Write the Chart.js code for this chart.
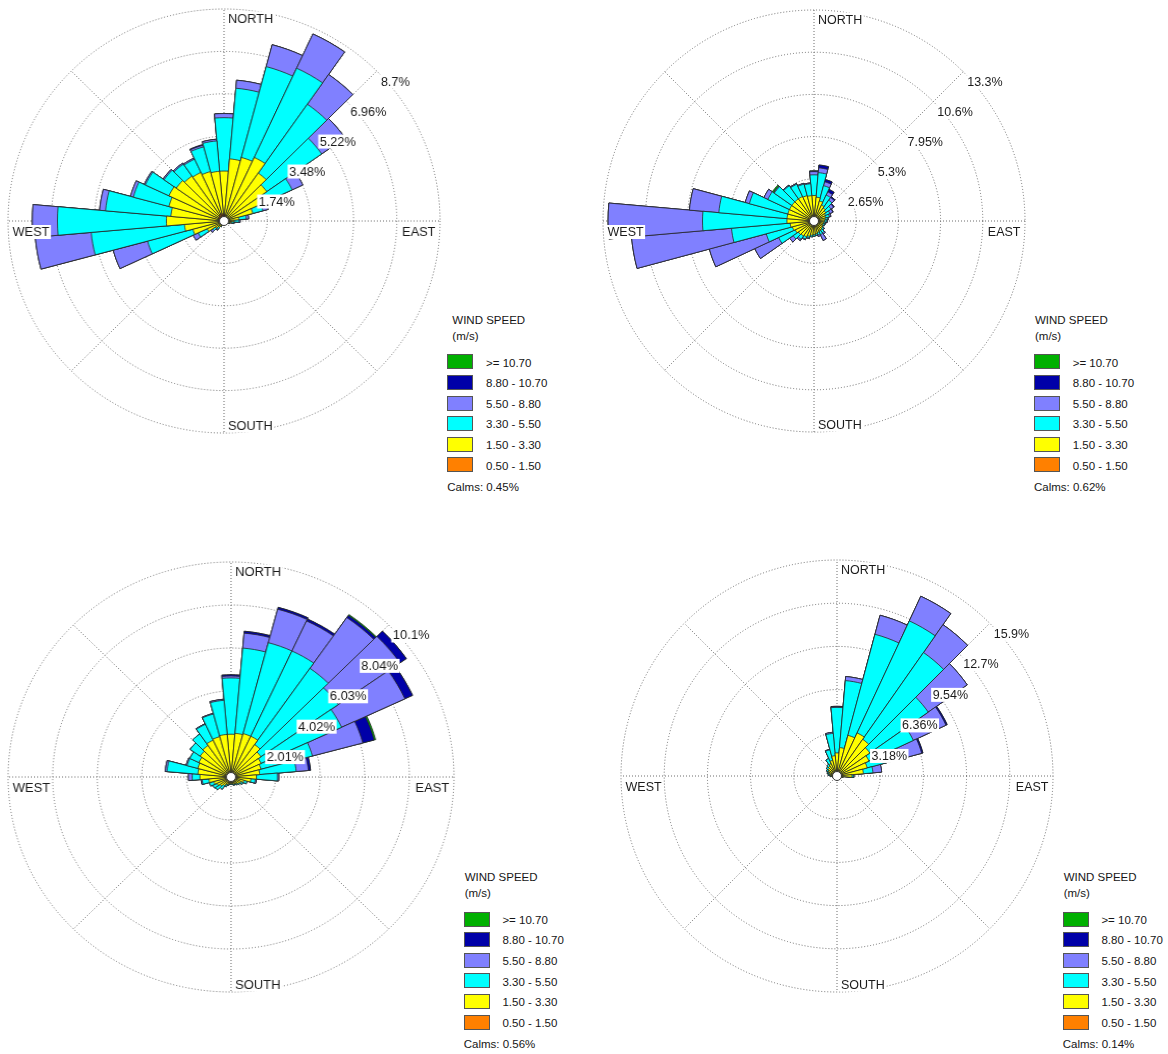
<!DOCTYPE html>
<html>
<head>
<meta charset="utf-8">
<title>Wind roses</title>
<script src="https://cdn.jsdelivr.net/npm/chart.js@4.4.1/dist/chart.umd.min.js"></script>
<style>
  html, body { margin: 0; padding: 0; background: #fff; }
  body { width: 1168px; height: 1054px; position: relative; overflow: hidden;
         font-family: "Liberation Sans", Arial, sans-serif; color: #161616; }
  canvas.rose { position: absolute; }
  .lg { position: absolute; font-size: 11.5px; line-height: 14px; white-space: nowrap; }
  .sw { position: absolute; width: 24px; height: 13px; border: 1px solid #555; }
</style>
</head>
<body>
<script>
// ---- directions (sector centres, degrees clockwise from north) ----
const directions = ['0','10','20','30','40','50','60','70','80','90',
  '100','110','120','130','140','150','160','170','180','190',
  '200','210','220','230','240','250','260','270','280','290',
  '300','310','320','330','340','350'];

// ---- speed classes, lowest first ----
const speedClasses = ['0.50 - 1.50', '1.50 - 3.30', '3.30 - 5.50', '5.50 - 8.80', '8.80 - 10.70', '>= 10.70'];
const classColors  = ['#FF8000', '#FFFF00', '#00FFFF', '#8080FF', '#0000A8', '#00B000'];
const cardinalNames = ['NORTH', 'EAST', 'SOUTH', 'WEST'];

// ---- rose 1: frequency (%) per direction for each speed class ----
const r1Orange = [0.25,0.20,0.15,0.15,0.12,0.10,0.10,0.08,0.08,0.06, 0.05,0.05,0.05,0.05,0.04,0.04,0.04,0.04,0.05,0.05, 0.06,0.08,0.10,0.10,0.12,0.15,0.18,0.20,0.20,0.20, 0.22,0.25,0.28,0.30,0.30,0.30];
const r1Yellow = [1.80,2.36,2.55,2.73,2.28,2.00,1.60,1.12,0.52,0.34, 0.25,0.15,0.10,0.07,0.06,0.06,0.06,0.06,0.07,0.07, 0.09,0.14,0.22,0.32,0.63,1.15,1.42,2.12,1.95,2.10, 2.23,2.10,1.97,1.90,1.80,1.75];
const r1Cyan   = [2.19,2.91,3.86,4.04,3.45,2.70,1.33,0.42,0.30,0.20, 0.10,0.05,0,0,0,0,0,0,0,0, 0,0.04,0.10,0.14,0.40,1.89,3.77,4.39,2.64,1.48, 1.05,0.60,0.60,0.60,1.05,1.25];
const r1Purple = [0.17,0.33,0.93,1.55,1.49,1.15,0.47,0.22,0.10,0.05, 0.02,0,0,0,0,0,0,0,0,0, 0,0,0.04,0.10,0.22,1.43,2.26,1.01,0.24,0.12, 0.05,0.05,0.05,0.05,0.07,0.07];
const r1Navy   = [0,0,0,0,0,0,0,0,0,0, 0,0,0,0,0,0,0,0,0,0, 0,0,0,0,0,0,0,0,0,0, 0,0,0,0,0.03,0];
const r1Green  = [0,0,0,0,0,0,0,0,0,0, 0,0,0,0,0,0,0,0,0,0, 0,0,0,0,0,0,0,0,0,0, 0,0,0,0,0,0];
const r1Rings  = [1.74, 3.48, 5.22, 6.96, 8.7];
const r1RingLabels = ['1.74%', '3.48%', '5.22%', '6.96%', '8.7%'];
const r1Calms = 0.45;

// ---- rose 2 ----
const r2Orange = [0.10,0.10,0.10,0.10,0.10,0.10,0.10,0.10,0.10,0.10, 0.10,0.10,0.10,0.10,0.10,0.10,0.10,0.10,0.10,0.10, 0.10,0.10,0.10,0.10,0.10,0.10,0.10,0.10,0.10,0.10, 0.10,0.10,0.10,0.10,0.10,0.10];
const r2Yellow = [1.50,1.40,1.20,1.00,0.90,0.80,0.70,0.65,0.60,0.55, 0.50,0.50,0.50,0.55,0.60,0.60,0.65,0.70,0.75,0.80, 0.90,1.00,1.05,1.10,1.20,1.30,1.40,1.60,1.60,1.60, 1.60,1.60,1.60,1.60,1.55,1.50];
const r2Cyan   = [1.30,1.55,1.00,0.70,0.60,0.40,0.30,0.25,0.15,0.15, 0.10,0.10,0.05,0.10,0.20,0.25,0.15,0.10,0.10,0.10, 0.10,0.15,0.25,0.40,1.15,1.70,3.70,5.30,4.30,2.50, 1.50,1.35,1.00,0.85,0.75,0.75];
const r2Purple = [0.20,0.30,0.25,0.22,0.20,0.20,0.20,0.10,0.05,0.05, 0.05,0,0,0.05,0.10,0.40,0.10,0,0,0, 0.05,0.05,0.10,0.27,1.65,3.70,6.30,5.93,1.85,0.27, 0.27,0.05,0.05,0.05,0.05,0.05];
const r2Navy   = [0.04,0.18,0.15,0.18,0.07,0.05,0.03,0,0,0, 0,0,0,0,0,0,0,0,0,0, 0,0,0,0,0,0,0,0,0,0, 0,0,0,0,0,0];
const r2Green  = [0.02,0,0,0,0,0,0,0,0,0, 0,0,0,0,0,0,0,0,0,0, 0,0,0,0,0,0,0,0,0,0, 0,0.10,0,0,0,0];
const r2Rings  = [2.65, 5.3, 7.95, 10.6, 13.25];
const r2RingLabels = ['2.65%', '5.3%', '7.95%', '10.6%', '13.3%'];
const r2Calms = 0.62;

// ---- rose 3 ----
const r3Orange = [0.10,0.10,0.10,0.10,0.10,0.10,0.10,0.10,0.10,0.10, 0.10,0.10,0.10,0.10,0.10,0.10,0.10,0.10,0.10,0.10, 0.10,0.10,0.10,0.10,0.10,0.10,0.10,0.10,0.10,0.10, 0.10,0.10,0.10,0.10,0.10,0.10];
const r3Yellow = [1.90,1.95,2.00,2.00,1.75,1.55,1.40,1.30,1.20,1.05, 0.80,0.50,0.40,0.35,0.30,0.25,0.25,0.20,0.20,0.20, 0.25,0.30,0.40,0.50,0.60,0.70,0.90,1.30,1.40,1.45, 1.50,1.60,1.70,1.80,1.85,1.90];
const r3Cyan   = [2.63,4.00,4.40,4.40,4.35,4.25,4.00,2.40,1.65,0.95, 0.20,0.15,0.10,0.05,0.05,0.05,0.05,0.05,0.05,0.05, 0.05,0.10,0.20,0.25,0.20,0.20,0.30,0.35,1.40,0.50, 0.45,0.55,0.65,0.82,1.10,1.60];
const r3Purple = [0.09,0.70,1.62,1.55,2.90,3.40,3.15,2.35,0.55,0.05, 0.05,0,0,0,0,0,0,0,0,0, 0,0,0,0,0,0,0.05,0.17,0.08,0.05, 0,0,0,0.03,0.03,0.05];
const r3Navy   = [0.06,0.09,0.09,0.10,0.12,0.35,0.38,0.53,0.10,0, 0,0,0,0,0,0,0,0,0,0, 0,0,0,0,0,0,0,0,0,0, 0,0,0,0,0,0];
const r3Green  = [0,0,0,0,0.05,0,0,0.07,0,0, 0,0,0,0,0,0,0,0,0,0, 0,0,0,0,0,0,0,0,0,0, 0,0,0,0,0,0];
const r3Rings  = [2.01, 4.02, 6.03, 8.04, 10.05];
const r3RingLabels = ['2.01%', '4.02%', '6.03%', '8.04%', '10.1%'];
const r3Calms = 0.56;

// ---- rose 4 ----
const r4Orange = [0.10,0.10,0.10,0.10,0.10,0.10,0.10,0.10,0.10,0.10, 0.10,0.08,0.08,0.08,0.08,0.08,0.08,0.08,0.08,0.08, 0.08,0.08,0.08,0.08,0.08,0.10,0.10,0.10,0.10,0.10, 0.10,0.10,0.10,0.10,0.10,0.10];
const r4Yellow = [1.60,2.00,3.00,3.40,3.20,2.85,2.50,2.20,1.85,1.00, 0.30,0.10,0.10,0.10,0.10,0.10,0.10,0.10,0.10,0.10, 0.10,0.10,0.10,0.10,0.10,0.15,0.20,0.30,0.40,0.50, 0.60,0.70,0.80,0.90,1.10,1.40];
const r4Cyan   = [3.35,4.95,7.70,9.10,7.80,5.25,3.60,2.55,0.71,0.10, 0.05,0,0,0,0,0,0,0,0,0, 0,0,0,0,0,0,0.05,0.10,0.15,0.15, 0.15,0.15,0.15,0.42,0.80,1.65];
const r4Purple = [0.05,0.30,1.45,2.00,2.50,3.50,2.65,1.60,0.64,0.05, 0,0,0,0,0,0,0,0,0,0, 0,0,0,0,0,0,0,0,0,0, 0,0,0,0,0.04,0.08];
const r4Navy   = [0.03,0,0,0,0,0,0.10,0.10,0,0, 0,0,0,0,0,0,0,0,0,0, 0,0,0,0,0,0,0,0,0,0, 0,0,0,0,0,0];
const r4Green  = [0,0,0,0,0,0,0,0,0,0, 0,0,0,0,0,0,0,0,0,0, 0,0,0,0,0,0,0,0,0,0, 0,0,0,0,0,0];
const r4Rings  = [3.18, 6.36, 9.54, 12.72, 15.9];
const r4RingLabels = ['3.18%', '6.36%', '9.54%', '12.7%', '15.9%'];
const r4Calms = 0.14;

// ---- page layout of the four panels ----
const panels = [
  { bands: [r1Orange, r1Yellow, r1Cyan, r1Purple, r1Navy, r1Green], rings: r1Rings, ringLabels: r1RingLabels, calms: r1Calms,
    cx: 224, cy: 221, R: 212, stretch: 1.019, legX: 447.3, legY: 354.3, titleDx: 5 },
  { bands: [r2Orange, r2Yellow, r2Cyan, r2Purple, r2Navy, r2Green], rings: r2Rings, ringLabels: r2RingLabels, calms: r2Calms,
    cx: 814, cy: 221, R: 211, stretch: 1.0, legX: 1034, legY: 354.3, titleDx: 1 },
  { bands: [r3Orange, r3Yellow, r3Cyan, r3Purple, r3Navy, r3Green], rings: r3Rings, ringLabels: r3RingLabels, calms: r3Calms,
    cx: 231, cy: 777, R: 215, stretch: 1.037, legX: 463.7, legY: 911.5, titleDx: 1 },
  { bands: [r4Orange, r4Yellow, r4Cyan, r4Purple, r4Navy, r4Green], rings: r4Rings, ringLabels: r4RingLabels, calms: r4Calms,
    cx: 837, cy: 776, R: 216, stretch: 1.0, legX: 1062.7, legY: 911.5, titleDx: 1 }
];

const PAD = 6;
const gridColor = '#6c6c6c';
const textColor = '#1b1b1b';
const labelFont = '12.5px "Liberation Sans", Arial, sans-serif';

// Spokes every 45°, the calms disc and the boxed scale / compass labels
const roseDecor = {
  id: 'roseDecor',
  beforeDatasetsDraw(chart) {
    const s = chart.scales.r, ctx = chart.ctx;
    ctx.save();
    ctx.strokeStyle = gridColor;
    ctx.lineWidth = 1;
    ctx.setLineDash([1, 2]);
    for (let k = 0; k < 8; k++) {
      const a = k * Math.PI / 4;
      ctx.beginPath();
      ctx.moveTo(s.xCenter, s.yCenter);
      ctx.lineTo(s.xCenter + s.drawingArea * Math.sin(a), s.yCenter - s.drawingArea * Math.cos(a));
      ctx.stroke();
    }
    ctx.restore();
  },
  afterDatasetsDraw(chart) {
    const s = chart.scales.r, ctx = chart.ctx;
    ctx.save();
    ctx.beginPath();
    ctx.arc(s.xCenter, s.yCenter, 4.5, 0, Math.PI * 2);
    ctx.fillStyle = '#fff';
    ctx.fill();
    ctx.lineWidth = 1;
    ctx.strokeStyle = '#333';
    ctx.stroke();
    ctx.restore();
  },
  afterDraw(chart, args, o) {
    const s = chart.scales.r, ctx = chart.ctx;
    const xc = s.xCenter, yc = s.yCenter, R = s.drawingArea;
    ctx.save();
    ctx.font = labelFont;
    ctx.textBaseline = 'alphabetic';
    ctx.textAlign = 'left';
    const boxed = (text, x, y, alignRight) => {
      const w = ctx.measureText(text).width;
      const left = alignRight ? x - w : x;
      ctx.fillStyle = '#fff';
      ctx.fillRect(left - 1.5, y - 11, w + 3, 14);
      ctx.fillStyle = textColor;
      ctx.fillText(text, left, y);
    };
    o.rings.forEach((v, i) => {
      const r = s.getDistanceFromCenterForValue(v);
      boxed(o.ringLabels[i], xc + r * Math.SQRT1_2 + 4, yc - r * Math.SQRT1_2 + 14.5);
    });
    boxed(cardinalNames[0], xc + 4, yc - R + 13.5);
    boxed(cardinalNames[1], xc + R - 4.5, yc + 15, true);
    boxed(cardinalNames[2], xc + 4, yc + R - 3.5);
    boxed(cardinalNames[3], xc - R + 4.5, yc + 15);
    ctx.restore();
  }
};

function cumulate(bands) {
  const out = [];
  let run = directions.map(() => 0);
  bands.forEach(b => {
    run = run.map((v, i) => v + b[i]);
    out.push(run.slice());
  });
  return out;
}

function addDiv(cls, x, y, text, extra) {
  const d = document.createElement('div');
  d.className = cls;
  d.style.left = x + 'px';
  d.style.top = y + 'px';
  if (text !== null) d.textContent = text;
  if (extra) Object.assign(d.style, extra);
  document.body.appendChild(d);
  return d;
}

function buildLegend(p) {
  const x = p.legX, y0 = p.legY, rowStep = 20.6;
  addDiv('lg', x + p.titleDx, y0 - 41.3, 'WIND SPEED');
  addDiv('lg', x + p.titleDx, y0 - 25.6, '(m/s)');
  for (let i = 0; i < speedClasses.length; i++) {
    const k = speedClasses.length - 1 - i;
    const top = y0 + i * rowStep;
    addDiv('sw', x, top, null, { background: classColors[k] });
    addDiv('lg', x + 38.7, top + 1.2, speedClasses[k]);
  }
  addDiv('lg', x, y0 + 125.2, 'Calms: ' + p.calms.toFixed(2) + '%');
}

panels.forEach(p => {
  const size = 2 * p.R + 2 * PAD;
  const canvas = document.createElement('canvas');
  canvas.className = 'rose';
  canvas.width = size;
  canvas.height = size;
  canvas.style.left = (p.cx - p.R - PAD) + 'px';
  canvas.style.top = (p.cy - p.R - PAD) + 'px';
  canvas.style.width = size + 'px';
  canvas.style.height = size + 'px';
  canvas.style.transformOrigin = '50% 50%';
  canvas.style.transform = 'scaleX(' + p.stretch + ')';
  document.body.appendChild(canvas);

  const stacked = cumulate(p.bands);
  new Chart(canvas, {
    type: 'polarArea',
    data: {
      labels: directions,
      datasets: stacked.map((d, k) => ({
        label: speedClasses[k],
        data: d,
        backgroundColor: classColors[k],
        borderColor: '#262626',
        borderWidth: 0.8
      }))
    },
    options: {
      responsive: false,
      maintainAspectRatio: false,
      devicePixelRatio: 1,
      animation: false,
      startAngle: -5,
      layout: { padding: PAD },
      plugins: {
        legend: { display: false },
        tooltip: { enabled: false },
        roseDecor: { rings: p.rings, ringLabels: p.ringLabels }
      },
      scales: {
        r: {
          min: 0,
          max: p.rings[p.rings.length - 1],
          startAngle: -5,
          ticks: { display: false },
          pointLabels: { display: false },
          angleLines: { display: false },
          grid: { circular: true, color: gridColor, lineWidth: 1, borderDash: [1, 2] },
          border: { dash: [1, 2] },
          afterBuildTicks(scale) {
            scale.ticks = [0].concat(p.rings).map(v => ({ value: v }));
          }
        }
      }
    },
    plugins: [roseDecor]
  });

  buildLegend(p);
});
</script>
</body>
</html>
